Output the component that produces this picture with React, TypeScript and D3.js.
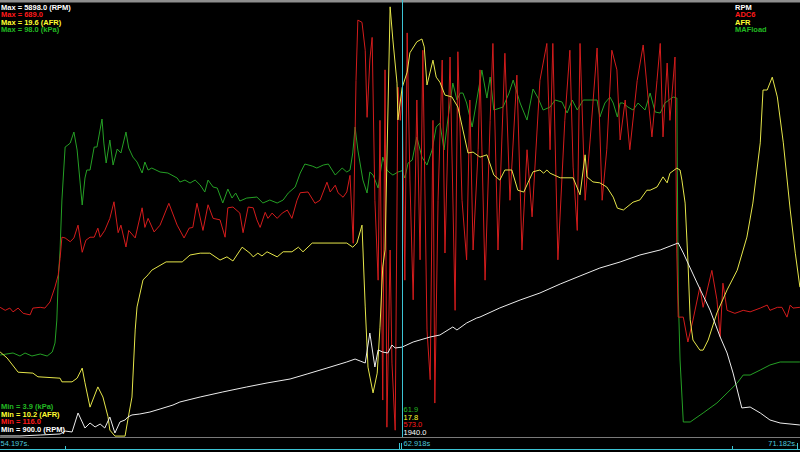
import React from 'react';
import * as d3 from 'd3';

const W = 800;
const H = 452;
const PLOT_TOP = 5;
const PLOT_BOTTOM = 437;
const T_START = 54.197;
const T_END = 71.552;
const CURSOR_T = 62.918;

const seriesNames = ['RPM', 'ADC6', 'AFR', 'MAFload'];
const seriesMin = [900, 116, 10.2, 3.9];
const seriesMax = [5898, 689, 19.6, 98];
const seriesUnits = ['(RPM)', '', '(AFR)', '(kPa)'];
const cursorValues = [1940, 573, 17.8, 61.9];
const timeLabels = ['54.197s.', '62.918s', '71.182s.'];

const textColors = ['#ffffff', '#ff1a1a', '#ffff30', '#22b822'];
const lineColors = ['#ececec', '#d41c1c', '#e6e64a', '#25a025'];

const rpmSeries: [number, number][] = [
  [54.20, 912], [54.63, 912], [55.07, 923], [55.50, 935], [55.61, 969], [55.76, 958], [55.89, 1178], [55.98, 1074],
  [56.04, 1004], [56.15, 1062], [56.26, 1016], [56.37, 1050], [56.47, 1004], [56.58, 1131], [56.69, 946], [56.80, 1074],
  [56.91, 1097], [56.97, 1131], [57.06, 1155], [57.23, 1166], [57.45, 1189], [57.67, 1224], [57.95, 1270], [58.10, 1305],
  [58.54, 1363], [59.03, 1421], [59.55, 1479], [59.99, 1525], [60.49, 1571], [60.86, 1629], [61.29, 1698], [61.72, 1768],
  [61.90, 1802], [62.01, 1779], [62.12, 1756], [62.22, 2103], [62.33, 1710], [62.40, 1907], [62.50, 1883], [62.61, 1872],
  [62.70, 1964], [62.77, 1930], [62.92, 1940], [63.16, 1999], [63.53, 2057], [63.74, 2080], [64.02, 2173], [64.11, 2138],
  [64.32, 2219], [64.54, 2277], [64.61, 2288], [65.04, 2393], [65.48, 2485], [65.91, 2566], [66.35, 2670], [66.78, 2763],
  [67.21, 2855], [67.65, 2925], [68.08, 3006], [68.52, 3064], [68.91, 3145], [69.02, 3029], [69.32, 2682], [69.60, 2369],
  [69.82, 2057], [69.97, 1872], [70.10, 1640], [70.29, 1236], [70.47, 1247], [70.69, 1178], [70.90, 1097], [71.12, 1062],
  [71.55, 1039],
];

const adcSeries: [number, number][] = [
  [54.20, 288], [54.31, 284], [54.41, 287], [54.48, 282], [54.59, 287], [54.70, 280], [54.85, 278], [54.91, 287],
  [55.07, 288], [55.17, 287], [55.28, 295], [55.39, 315], [55.46, 331], [55.50, 353], [55.54, 381], [55.61, 380],
  [55.72, 375], [55.80, 380], [55.89, 397], [55.98, 361], [56.06, 377], [56.15, 381], [56.24, 381], [56.32, 393],
  [56.37, 381], [56.47, 390], [56.58, 406], [56.67, 428], [56.76, 387], [56.82, 397], [56.93, 368], [56.99, 390],
  [57.13, 380], [57.28, 420], [57.34, 394], [57.41, 406], [57.54, 388], [57.67, 397], [57.86, 426], [58.04, 397],
  [58.19, 380], [58.30, 393], [58.38, 394], [58.47, 426], [58.60, 390], [58.71, 424], [58.82, 406], [58.97, 404],
  [59.08, 381], [59.14, 420], [59.25, 421], [59.40, 413], [59.47, 387], [59.58, 421], [59.69, 420], [59.77, 404],
  [59.84, 394], [59.95, 414], [60.01, 406], [60.10, 413], [60.21, 406], [60.32, 413], [60.43, 417], [60.53, 406],
  [60.64, 430], [60.71, 440], [60.88, 441], [61.03, 426], [61.14, 430], [61.29, 454], [61.36, 441], [61.47, 450],
  [61.53, 440], [61.64, 434], [61.72, 441], [61.79, 463], [61.86, 373], [61.92, 589], [61.96, 669], [62.05, 666],
  [62.12, 629], [62.16, 540], [62.22, 616], [62.27, 646], [62.33, 430], [62.40, 324], [62.44, 536], [62.50, 165],
  [62.55, 603], [62.59, 129], [62.66, 364], [62.70, 214], [62.77, 125], [62.83, 580], [62.88, 536], [62.92, 573],
  [62.98, 324], [63.03, 652], [63.09, 457], [63.16, 298], [63.24, 563], [63.31, 351], [63.37, 629], [63.46, 258],
  [63.53, 192], [63.59, 536], [63.63, 161], [63.70, 430], [63.79, 616], [63.85, 360], [63.96, 620], [64.07, 284],
  [64.13, 627], [64.22, 430], [64.32, 351], [64.39, 563], [64.46, 364], [64.57, 497], [64.61, 603], [64.72, 324],
  [64.83, 536], [64.89, 638], [65.00, 364], [65.15, 625], [65.26, 430], [65.41, 596], [65.52, 364], [65.63, 497],
  [65.74, 408], [65.91, 589], [66.06, 638], [66.13, 497], [66.19, 638], [66.30, 351], [66.45, 536], [66.56, 629],
  [66.63, 474], [66.72, 390], [66.78, 638], [66.89, 430], [67.00, 510], [67.15, 632], [67.26, 430], [67.36, 497],
  [67.47, 629], [67.58, 603], [67.65, 510], [67.76, 563], [67.86, 497], [68.02, 589], [68.15, 636], [68.26, 563],
  [68.34, 514], [68.45, 589], [68.52, 638], [68.58, 514], [68.67, 612], [68.73, 536], [68.84, 620], [68.88, 360],
  [68.91, 275], [69.02, 275], [69.12, 242], [69.23, 271], [69.38, 315], [69.45, 288], [69.64, 337], [69.75, 298],
  [69.82, 249], [69.88, 320], [69.97, 284], [70.14, 280], [70.32, 284], [70.47, 282], [70.69, 287], [70.84, 291],
  [70.90, 284], [71.06, 288], [71.16, 288], [71.27, 275], [71.34, 291], [71.40, 287], [71.55, 288],
];

const afrSeries: [number, number][] = [
  [54.20, 12.05], [54.35, 11.92], [54.59, 11.61], [54.91, 11.59], [55.02, 11.51], [55.50, 11.48], [55.54, 11.40], [55.76, 11.40],
  [55.87, 11.48], [55.98, 11.70], [56.04, 11.38], [56.15, 10.85], [56.32, 11.29], [56.43, 11.07], [56.54, 10.64], [56.58, 10.35],
  [56.69, 10.22], [56.91, 10.22], [56.97, 10.57], [57.06, 11.07], [57.13, 12.53], [57.17, 13.03], [57.30, 13.62], [57.41, 13.73],
  [57.49, 13.83], [57.80, 14.01], [58.15, 14.01], [58.32, 14.16], [58.54, 14.20], [58.75, 14.20], [58.97, 14.05], [59.12, 14.12],
  [59.25, 14.03], [59.45, 14.33], [59.62, 14.20], [59.69, 14.12], [59.79, 14.20], [59.88, 14.14], [59.99, 14.23], [60.21, 14.12],
  [60.34, 14.23], [60.53, 14.23], [60.67, 14.33], [60.77, 14.23], [60.97, 14.42], [61.72, 14.42], [61.85, 14.33], [61.94, 14.42],
  [62.05, 14.81], [62.12, 13.03], [62.18, 11.72], [62.29, 11.16], [62.38, 11.59], [62.44, 12.59], [62.50, 13.90], [62.55, 14.27],
  [62.66, 19.56], [62.72, 18.84], [62.81, 17.90], [62.83, 17.10], [62.92, 17.8], [63.03, 18.14], [63.09, 18.56], [63.24, 18.80],
  [63.35, 18.86], [63.40, 18.69], [63.46, 17.86], [63.59, 18.40], [63.66, 18.03], [63.74, 17.92], [63.85, 17.64], [64.00, 17.60],
  [64.13, 17.38], [64.24, 16.88], [64.35, 16.38], [64.46, 16.40], [64.61, 16.29], [64.76, 16.34], [64.91, 15.90], [65.04, 15.79],
  [65.15, 16.01], [65.30, 16.01], [65.43, 15.57], [65.56, 15.53], [65.65, 15.73], [65.76, 15.97], [65.91, 16.01], [65.99, 15.94],
  [66.06, 16.01], [66.13, 15.94], [66.35, 15.84], [66.63, 15.84], [66.74, 15.57], [66.78, 15.47], [66.89, 16.34], [66.93, 15.86],
  [67.06, 15.75], [67.21, 15.73], [67.36, 15.64], [67.50, 15.42], [67.59, 15.18], [67.72, 15.14], [67.93, 15.31], [68.08, 15.36],
  [68.23, 15.57], [68.30, 15.57], [68.45, 15.64], [68.58, 15.86], [68.67, 15.73], [68.73, 15.94], [68.88, 16.05], [68.95, 16.01],
  [68.99, 15.79], [69.06, 15.29], [69.12, 14.05], [69.17, 12.75], [69.23, 12.31], [69.38, 12.09], [69.45, 12.09], [69.56, 12.31],
  [69.75, 12.90], [69.97, 13.40], [70.19, 13.83], [70.40, 14.55], [70.53, 15.29], [70.69, 16.60], [70.75, 17.75], [70.84, 17.75],
  [70.95, 18.03], [71.06, 17.60], [71.19, 16.60], [71.34, 15.14], [71.45, 14.20], [71.55, 13.46],
];

const mafSeries: [number, number][] = [
  [54.20, 21.76], [54.48, 22.20], [54.63, 21.54], [54.74, 22.20], [54.89, 21.54], [55.07, 21.98], [55.22, 21.54], [55.33, 22.41],
  [55.39, 24.37], [55.43, 29.38], [55.46, 38.09], [55.50, 44.63], [55.54, 55.52], [55.61, 67.06], [55.67, 67.50], [55.72, 67.93],
  [55.80, 70.33], [55.87, 66.41], [55.98, 54.43], [56.04, 60.31], [56.08, 62.05], [56.15, 62.05], [56.24, 67.06], [56.30, 67.06],
  [56.41, 73.16], [56.45, 67.93], [56.50, 63.58], [56.58, 68.59], [56.65, 63.14], [56.74, 66.63], [56.82, 65.76], [56.93, 70.33],
  [56.99, 66.84], [57.08, 64.88], [57.17, 63.80], [57.28, 61.40], [57.34, 63.80], [57.41, 62.05], [57.49, 62.49], [57.67, 61.62],
  [57.84, 61.40], [58.04, 60.31], [58.10, 59.44], [58.21, 59.87], [58.32, 59.22], [58.43, 59.87], [58.54, 58.79], [58.64, 57.26],
  [58.71, 59.87], [58.82, 58.35], [58.91, 58.13], [59.03, 54.87], [59.14, 57.91], [59.23, 55.95], [59.31, 57.04], [59.40, 55.30],
  [59.55, 55.95], [59.77, 56.17], [59.90, 54.87], [60.05, 55.52], [60.21, 54.87], [60.34, 55.52], [60.45, 57.04], [60.60, 58.35],
  [60.71, 61.40], [60.81, 63.36], [60.97, 62.92], [61.07, 62.49], [61.21, 63.14], [61.32, 63.36], [61.47, 60.96], [61.62, 62.49],
  [61.72, 61.62], [61.79, 62.05], [61.85, 65.76], [61.90, 71.42], [61.96, 66.41], [62.07, 59.87], [62.16, 57.04], [62.22, 61.62],
  [62.29, 60.96], [62.40, 58.13], [62.50, 64.88], [62.59, 62.05], [62.66, 61.40], [62.72, 60.96], [62.83, 61.62], [62.92, 61.9],
  [62.98, 60.31], [63.05, 63.58], [63.14, 64.23], [63.24, 69.24], [63.35, 64.88], [63.46, 63.14], [63.57, 66.41], [63.66, 71.42],
  [63.74, 72.29], [63.83, 66.41], [63.92, 73.60], [64.02, 81.00], [64.11, 77.30], [64.18, 78.82], [64.24, 78.82], [64.32, 76.65],
  [64.44, 71.42], [64.54, 77.30], [64.65, 83.83], [64.76, 77.73], [64.83, 82.31], [64.91, 75.12], [65.11, 75.77], [65.24, 78.82],
  [65.33, 81.65], [65.48, 76.65], [65.63, 72.94], [65.76, 79.69], [65.87, 77.73], [65.98, 75.12], [66.13, 75.77], [66.24, 77.30],
  [66.39, 76.86], [66.50, 74.47], [66.61, 77.30], [66.72, 75.12], [66.85, 77.30], [67.00, 77.30], [67.15, 77.30], [67.21, 73.60],
  [67.32, 76.65], [67.43, 77.95], [67.50, 76.65], [67.59, 73.60], [67.65, 76.65], [67.71, 76.65], [67.82, 75.77], [67.93, 75.12],
  [68.04, 76.65], [68.19, 75.12], [68.30, 78.82], [68.41, 74.69], [68.52, 74.47], [68.62, 76.65], [68.80, 77.95], [68.88, 77.73],
  [68.91, 35.26], [68.95, 20.67], [69.02, 7.17], [69.17, 7.17], [69.45, 9.13], [69.75, 11.31], [69.97, 13.48], [70.19, 15.66],
  [70.32, 17.40], [70.47, 17.40], [70.69, 18.49], [70.90, 19.58], [71.12, 20.24], [71.55, 20.24],
];

const allSeries = [rpmSeries, adcSeries, afrSeries, mafSeries];
const drawOrder = [3, 1, 2, 0];
const lowerOrder = [3, 2, 1, 0];

const FONT = "'Liberation Sans', Arial, sans-serif";

export default function App() {
  const x = d3.scaleLinear().domain([T_START, T_END]).range([0, W]);
  const ys = seriesMin.map((mn, i) =>
    d3.scaleLinear().domain([mn, seriesMax[i]]).range([PLOT_BOTTOM, PLOT_TOP])
  );
  const paths = allSeries.map((s, i) =>
    d3.line<[number, number]>().x((d) => x(d[0])).y((d) => ys[i](d[1]))(s) || ''
  );
  const cx = Math.round(x(CURSOR_T)) + 0.5;

  const maxText = (i: number) =>
    `Max = ${seriesMax[i].toFixed(1)}${seriesUnits[i] ? ' ' + seriesUnits[i] : ''}`;
  const minText = (i: number) =>
    `Min = ${seriesMin[i].toFixed(1)}${seriesUnits[i] ? ' ' + seriesUnits[i] : ''}`;

  return (
    <svg
      width={W}
      height={H}
      style={{ position: 'absolute', left: 0, top: 0, background: '#000' }}
    >
      <rect x={0} y={0} width={W} height={H} fill="#000" />
      <rect x={0} y={0} width={W} height={2.5} fill="#8e8e8e" />
      <line x1={0} x2={W} y1={PLOT_BOTTOM + 0.5} y2={PLOT_BOTTOM + 0.5} stroke="#7a7a7a" strokeWidth={1} />

      {drawOrder.map((i) => (
        <path key={i} d={paths[i]} fill="none" stroke={lineColors[i]} strokeWidth={1} strokeLinejoin="round" />
      ))}

      <line x1={cx} x2={cx} y1={0} y2={PLOT_BOTTOM} stroke="#3cc4d4" strokeWidth={1} />

      {/* top-left max labels */}
      {[0, 1, 2, 3].map((i, k) => (
        <text key={'mx' + i} x={1} y={9.5 + k * 7.5} fill={textColors[i]} fontFamily={FONT}
          fontWeight="bold" fontSize={7.5}>{maxText(i)}</text>
      ))}
      {/* top-right names */}
      {[0, 1, 2, 3].map((i, k) => (
        <text key={'nm' + i} x={735} y={9.5 + k * 7.5} fill={textColors[i]} fontFamily={FONT}
          fontWeight="bold" fontSize={7.5}>{seriesNames[i]}</text>
      ))}
      {/* bottom-left min labels */}
      {lowerOrder.map((i, k) => (
        <text key={'mn' + i} x={1} y={409 + k * 7.5} fill={textColors[i]} fontFamily={FONT}
          fontWeight="bold" fontSize={7.5}>{minText(i)}</text>
      ))}
      {/* cursor values */}
      {lowerOrder.map((i, k) => (
        <text key={'cv' + i} x={cx + 1} y={412 + k * 7.5} fill={textColors[i]} fontFamily={FONT}
          fontSize={7.5}>{cursorValues[i].toFixed(1)}</text>
      ))}

      {/* time axis */}
      <text x={0.5} y={446} fill="#4cc8dc" fontFamily={FONT} fontSize={7.5}>{timeLabels[0]}</text>
      <text x={cx + 1} y={446} fill="#4cc8dc" fontFamily={FONT} fontSize={7.5}>{timeLabels[1]}</text>
      <text x={797} y={446} fill="#4cc8dc" fontFamily={FONT} fontSize={7.5} textAnchor="end">{timeLabels[2]}</text>
      <line x1={0} x2={W} y1={449.5} y2={449.5} stroke="#3cc4d4" strokeWidth={1} />
      <line x1={65.5} x2={65.5} y1={446} y2={450} stroke="#3cc4d4" strokeWidth={1} />
      <line x1={cx - 3} x2={cx - 3} y1={443} y2={450} stroke="#3cc4d4" strokeWidth={1} />
      <line x1={cx - 1} x2={cx - 1} y1={443} y2={450} stroke="#3cc4d4" strokeWidth={1} />
      <line x1={732.5} x2={732.5} y1={446} y2={450} stroke="#3cc4d4" strokeWidth={1} />
      <line x1={797.5} x2={797.5} y1={443} y2={450} stroke="#3cc4d4" strokeWidth={1} />
    </svg>
  );
}
